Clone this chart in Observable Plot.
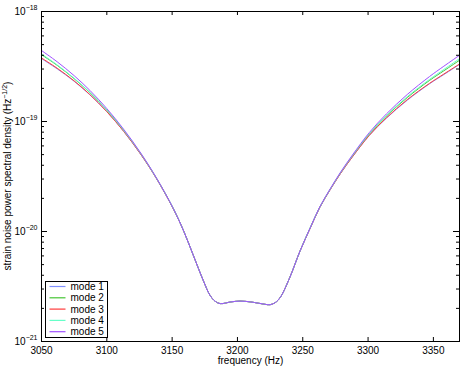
<!DOCTYPE html>
<html><head><meta charset="utf-8">
<script src="https://cdn.jsdelivr.net/npm/d3@7"></script>
<script src="https://cdn.jsdelivr.net/npm/@observablehq/plot@0.6"></script>
<style>
body{margin:0;background:#fff;}
#chart{position:relative;width:463px;height:367px;}
</style></head>
<body><div id="chart"></div>
<script>
const freqs = [3050,3062,3075,3087,3100,3113,3126,3138,3151,3159,3166,3174,3179,3183,3187,3195,3202,3210,3216,3221,3225,3229,3233,3240,3248,3256,3263,3271,3279,3288,3301,3314,3330,3347,3358,3370];
const mode1 = [3.73e-19,3.01e-19,2.32e-19,1.75e-19,1.23e-19,8.11e-20,5.02e-20,3.03e-20,1.60e-20,1.00e-20,6.17e-21,3.55e-21,2.63e-21,2.32e-21,2.21e-21,2.29e-21,2.33e-21,2.29e-21,2.23e-21,2.18e-21,2.16e-21,2.26e-21,2.54e-21,3.80e-21,6.68e-21,1.09e-20,1.65e-20,2.40e-20,3.38e-20,4.76e-20,7.48e-20,1.07e-19,1.56e-19,2.20e-19,2.67e-19,3.30e-19];
const mode2 = [4.05e-19,3.24e-19,2.45e-19,1.83e-19,1.27e-19,8.28e-20,5.09e-20,3.05e-20,1.61e-20,1.00e-20,6.17e-21,3.55e-21,2.63e-21,2.32e-21,2.21e-21,2.29e-21,2.33e-21,2.29e-21,2.23e-21,2.18e-21,2.16e-21,2.26e-21,2.54e-21,3.80e-21,6.68e-21,1.10e-20,1.66e-20,2.42e-20,3.42e-20,4.85e-20,7.69e-20,1.12e-19,1.65e-19,2.36e-19,2.89e-19,3.60e-19];
const mode3 = [3.78e-19,3.05e-19,2.34e-19,1.76e-19,1.23e-19,8.12e-20,5.03e-20,3.03e-20,1.60e-20,1.00e-20,6.17e-21,3.55e-21,2.63e-21,2.32e-21,2.21e-21,2.29e-21,2.33e-21,2.29e-21,2.23e-21,2.18e-21,2.16e-21,2.26e-21,2.54e-21,3.80e-21,6.68e-21,1.09e-20,1.65e-20,2.40e-20,3.38e-20,4.77e-20,7.50e-20,1.08e-19,1.58e-19,2.22e-19,2.70e-19,3.33e-19];
const mode4 = [4.11e-19,3.27e-19,2.47e-19,1.84e-19,1.27e-19,8.29e-20,5.10e-20,3.05e-20,1.61e-20,1.00e-20,6.17e-21,3.55e-21,2.63e-21,2.32e-21,2.21e-21,2.29e-21,2.33e-21,2.29e-21,2.23e-21,2.18e-21,2.16e-21,2.26e-21,2.54e-21,3.80e-21,6.68e-21,1.10e-20,1.66e-20,2.42e-20,3.43e-20,4.87e-20,7.74e-20,1.13e-19,1.68e-19,2.41e-19,2.97e-19,3.72e-19];
const mode5 = [4.42e-19,3.49e-19,2.61e-19,1.92e-19,1.31e-19,8.47e-20,5.16e-20,3.07e-20,1.61e-20,1.00e-20,6.17e-21,3.55e-21,2.63e-21,2.32e-21,2.21e-21,2.29e-21,2.33e-21,2.29e-21,2.23e-21,2.18e-21,2.16e-21,2.26e-21,2.54e-21,3.80e-21,6.68e-21,1.10e-20,1.67e-20,2.44e-20,3.47e-20,4.95e-20,7.94e-20,1.17e-19,1.76e-19,2.56e-19,3.18e-19,4.00e-19];
const modeNames = ["mode 1","mode 2","mode 3","mode 4","mode 5"];
const modeColors = ["#8090ff","#44c433","#ff3a3a","#66ffc8","#a050ff"];
const xTicks = [3050,3100,3150,3200,3250,3300,3350];
const yMajor = [1e-21,1e-20,1e-19,1e-18];
const yMinor = [2,3,4,5,6,7,8,9].flatMap(m => [m*1e-21, m*1e-20, m*1e-19]);
const yTickExp = ["−21","−20","−19","−18"];

const series = [mode1, mode2, mode3, mode4, mode5];
const rows = series.flatMap((vals, i) => vals.map((v, j) => ({f: freqs[j], v, mode: modeNames[i]})));

const W = 463, H = 367, mL = 41, mR = 4, mT = 11, mB = 26;
const ph = H - mT - mB, pw = W - mL - mR;
const font = "'Liberation Sans', Arial, Helvetica, sans-serif";

const plot = Plot.plot({
  width: W, height: H,
  marginLeft: mL, marginRight: mR, marginTop: mT, marginBottom: mB,
  style: {fontFamily: font, fontSize: "10px", background: "#fff", color: "#000"},
  x: {domain: [3050, 3370]},
  y: {type: "log", domain: [1e-21, 1e-18]},
  color: {domain: modeNames, range: modeColors},
  marks: [
    Plot.line(rows, {x: "f", y: "v", z: "mode", stroke: "mode", strokeWidth: 1, curve: "catmull-rom"}),
    Plot.tickX(xTicks, {x: d => d, insetTop: ph - 4, stroke: "#000"}),
    Plot.tickX(xTicks, {x: d => d, insetBottom: ph - 4, stroke: "#000"}),
    Plot.tickY(yMajor, {y: d => d, insetRight: pw - 6, stroke: "#000"}),
    Plot.tickY(yMajor, {y: d => d, insetLeft: pw - 6, stroke: "#000"}),
    Plot.tickY(yMinor, {y: d => d, insetRight: pw - 3, stroke: "#000"}),
    Plot.tickY(yMinor, {y: d => d, insetLeft: pw - 3, stroke: "#000"}),
    Plot.frame({stroke: "#000", strokeWidth: 1}),
    Plot.axisX(xTicks, {tickSize: 0, tickPadding: 5, tickFormat: d => String(d), label: "frequency (Hz)", labelAnchor: "center", labelArrow: "none", labelOffset: 22}),
    Plot.axisY(yMajor, {tickSize: 0, tickPadding: 4, tickFormat: (d, i) => "10", label: null})
  ]
});
document.getElementById("chart").appendChild(plot);

const svg = d3.select(plot);
svg.selectAll('g[aria-label="y-axis tick label"] text').each(function(d, i) {
  const t = d3.select(this);
  const idx = yMajor.indexOf(d);
  t.append("tspan").attr("dy", "-5").attr("font-size", "7px").text(yTickExp[idx >= 0 ? idx : i]);
});
const yl = svg.append("text")
  .attr("transform", `translate(11,${mT + ph / 2}) rotate(-90)`)
  .attr("text-anchor", "middle")
  .attr("font-family", font).attr("font-size", "10px").attr("fill", "#000");
yl.append("tspan").text("strain noise power spectral density (Hz");
yl.append("tspan").attr("dy", "-4").attr("font-size", "7px").text("−1/2");
yl.append("tspan").attr("dy", "4").text(")");

const lg = svg.append("g").attr("transform", "translate(45.5,281.5)");
lg.append("rect").attr("width", 62).attr("height", 56).attr("fill", "#fff").attr("stroke", "#000");
modeNames.forEach((name, i) => {
  const y = 5 + i * 11.3;
  lg.append("line").attr("x1", 4).attr("x2", 20).attr("y1", y).attr("y2", y).attr("stroke", modeColors[i]).attr("stroke-width", 1.2);
  lg.append("text").attr("x", 25).attr("y", y).attr("dy", "0.35em").attr("text-anchor", "start")
    .attr("font-family", font).attr("font-size", "10px").attr("fill", "#000").text(name);
});
</script></body></html>
